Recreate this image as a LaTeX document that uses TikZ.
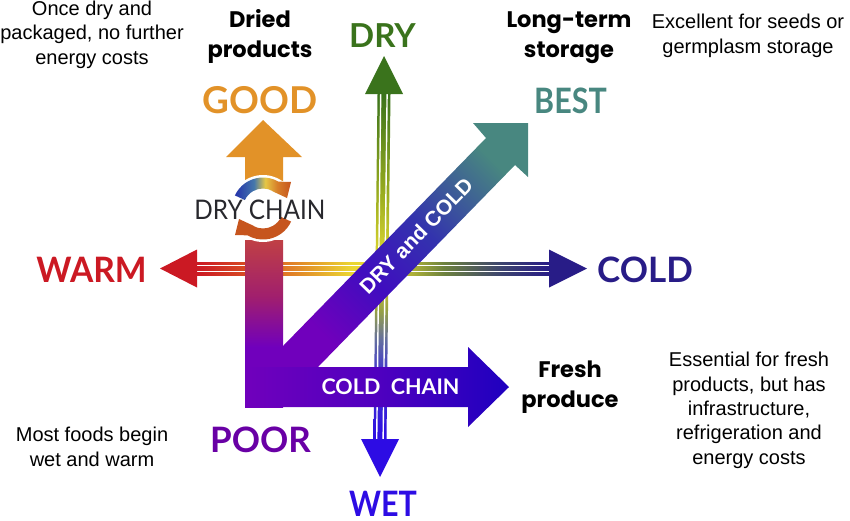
\documentclass[tikz,border=0pt]{standalone}
\usepackage{fontspec}
\usepackage{xcolor}
\usetikzlibrary{calc}
\setmainfont{Liberation Sans}
\newfontfamily\gaugefont{Lato}
\newfontfamily\headfont{Poppins}
\definecolor{warmred}{RGB}{203, 25, 35}
\definecolor{coldnavy}{RGB}{40, 28, 135}
\definecolor{dryGreen}{RGB}{58, 115, 28}
\definecolor{wetblue}{RGB}{45, 12, 228}
\definecolor{goodorange}{RGB}{226, 146, 40}
\definecolor{bestteal}{RGB}{72, 135, 128}
\definecolor{poorpurple}{RGB}{105, 0, 165}
\definecolor{chainink}{RGB}{40, 40, 45}
\definecolor{jointpurple}{RGB}{112, 0, 188}
\definecolor{ringbrown}{RGB}{198, 85, 30}

% Shadings: the path box runs from 25bp to 75bp
\pgfdeclarehorizontalshading{warmcold}{100bp}{
  color(0bp)=(warmred); color(25bp)=(warmred);
  rgb(36bp)=(.87,.41,.14);
  rgb(47bp)=(.92,.84,.2);
  rgb(52bp)=(.88,.84,.2);
  rgb(60bp)=(.43,.51,.24);
  rgb(68bp)=(.24,.27,.43);
  color(75bp)=(coldnavy); color(100bp)=(coldnavy)}
\pgfdeclareverticalshading{wetdry}{100bp}{
  color(0bp)=(wetblue); color(25bp)=(wetblue);
  rgb(35.5bp)=(.27,.24,.78);
  rgb(39.4bp)=(.39,.43,.63);
  rgb(43.7bp)=(.59,.63,.27);
  rgb(50.3bp)=(.9,.86,.2);
  rgb(61bp)=(.59,.67,.12);
  color(75bp)=(dryGreen); color(100bp)=(dryGreen)}
\pgfdeclareverticalshading{poorgood}{100bp}{
  color(0bp)=(jointpurple); color(25bp)=(jointpurple);
  color(43bp)=(jointpurple);
  rgb(58bp)=(.63,.12,.43);
  rgb(75bp)=(.75,.25,.27); rgb(100bp)=(.75,.25,.27)}
\pgfdeclarehorizontalshading{poorcold}{100bp}{
  color(0bp)=(jointpurple); color(25bp)=(jointpurple);
  rgb(50bp)=(.31,0,.75);
  rgb(75bp)=(.12,0,.75); rgb(100bp)=(.12,0,.75)}
\pgfdeclarehorizontalshading{poorbest}{100bp}{
  color(0bp)=(jointpurple); color(25bp)=(jointpurple);
  rgb(40bp)=(.25,.05,.75);
  rgb(55bp)=(.2,.2,.68);
  color(75bp)=(bestteal); color(100bp)=(bestteal)}
\pgfdeclarehorizontalshading{ringtop}{100bp}{
  rgb(0bp)=(.14,.2,.67); rgb(25bp)=(.14,.2,.67);
  rgb(42bp)=(.27,.47,.67);
  rgb(52bp)=(.9,.78,.27);
  rgb(63bp)=(.84,.49,.16);
  color(75bp)=(ringbrown); color(100bp)=(ringbrown)}

\begin{document}
\begin{tikzpicture}[x=1pt, y=-1pt,
        every node/.style={inner sep=0pt},
        gauge/.style={font=\gaugefont\bfseries\fontsize{#1}{#1}\selectfont, anchor=base},
        note/.style={font=\fontsize{20}{24.3}\selectfont, align=center, anchor=base},
        head/.style={font=\headfont\bfseries\fontsize{22.5}{30}\selectfont, align=center, anchor=base},
        gap/.style={draw=white, line width=1.4pt}]
        \useasboundingbox (0,0) rectangle (850,520);
        \coordinate (ring) at (263,208.5);

        % Horizontal and vertical axes, three stripes each
        \shade[shading=warmcold] (197,262) rectangle (549,275);
        \draw[gap] (197,265.2) -- (549,265.2);
        \draw[gap] (197,271.2) -- (549,271.2);
        \fill[warmred] (197,249.5) -- (160,268.5) -- (197,287.5) -- cycle;
        \fill[coldnavy] (549,249.5) -- (587,268.5) -- (549,287.5) -- cycle;

        \shade[shading=wetdry] (377.5,94) -- (390.5,94) -- (386.5,440) -- (373.5,440) -- cycle;
        \draw[gap] (380.7,94) -- (376.7,440);
        \draw[gap] (387.1,94) -- (383.1,440);
        \fill[dryGreen] (365,94) -- (384,56) -- (403,94) -- cycle;
        \fill[wetblue] (361,439) -- (380,477) -- (399,439) -- cycle;

        % Good arrow and dry chain
        \fill[goodorange] (245,210) -- (245,157) -- (226,157) -- (263,120) -- (302,157) -- (283,157) -- (283,210) -- cycle;
        \shade[shading=poorgood] (245,240) rectangle (283,407);
        \fill[white] (ring) circle[radius=33.5];
        \shade[shading=ringtop] ($(ring)+(205:31)$) arc[start angle=205, end angle=300, radius=31]
          -- (291,182) -- (287,198) -- (272,191) -- ($(ring)+(300:20)$)
          arc[start angle=300, end angle=205, radius=20] -- cycle;
        \fill[ringbrown] ($(ring)+(25:31)$) arc[start angle=25, end angle=120, radius=31]
          -- (235,235) -- (239,219) -- (254,226) -- ($(ring)+(120:20)$)
          arc[start angle=120, end angle=25, radius=20] -- cycle;

        % Dry and cold, cold chain
        \shade[shading=poorbest, shading angle=45] (283,367) -- (283,346) -- (486,138) -- (473,123) -- (528,123) -- (528,177) -- (515,165) -- (318,367) -- cycle;
        \shade[shading=poorcold] (245,367) -- (468,367) -- (468,347) -- (509,387) -- (468,427) -- (468,407) -- (245,407) -- cycle;
        \node[rotate=45.7, text=white, font=\bfseries\fontsize{21}{21}\selectfont] (drycold) at (416,236) {DRY and COLD};
        \node[text=white, anchor=base, font=\gaugefont\bfseries\fontsize{21.5}{21.5}\selectfont] (coldchain) at (390.5,394) {COLD\ \ CHAIN};
        \node[text=chainink, anchor=base, xscale=.9, font=\gaugefont\fontsize{27}{27}\selectfont] (drychain) at (260,219) {DRY CHAIN};

        % Gauge labels
        \node[gauge=33, text=dryGreen] (dry) at (382.5,47) {DRY};
        \node[gauge=37, text=goodorange] (good) at (260,113) {GOOD};
        \node[gauge=35, xscale=.87, text=bestteal] (best) at (570.5,113) {BEST};
        \node[gauge=35, xscale=.96, text=warmred] (warm) at (91.5,282) {WARM};
        \node[gauge=35, text=coldnavy] (cold) at (645,282) {COLD};
        \node[gauge=35, text=poorpurple] (poor) at (260.5,452) {POOR};
        \node[gauge=35, xscale=.87, text=wetblue] (wet) at (383,516) {WET};

        % Product headings
        \node[head] (dried) at (260,57) {Dried\\products};
        \node[head] (longterm) at (569,57) {Long-term\\storage};
        \node[head] (fresh) at (570,407) {Fresh\\produce};

        % Notes
        \node[note] (oncedry) at (92,64) {Once dry and\\packaged, no further\\energy costs};
        \node[note] (excellent) at (748,53) {Excellent for seeds or\\germplasm storage};
        \node[note] (essential) at (749,464) {Essential for fresh\\products, but has\\infrastructure,\\refrigeration and\\energy costs};
        \node[note] (mostfoods) at (92,466) {Most foods begin\\wet and warm};
    \end{tikzpicture}
\end{document}
